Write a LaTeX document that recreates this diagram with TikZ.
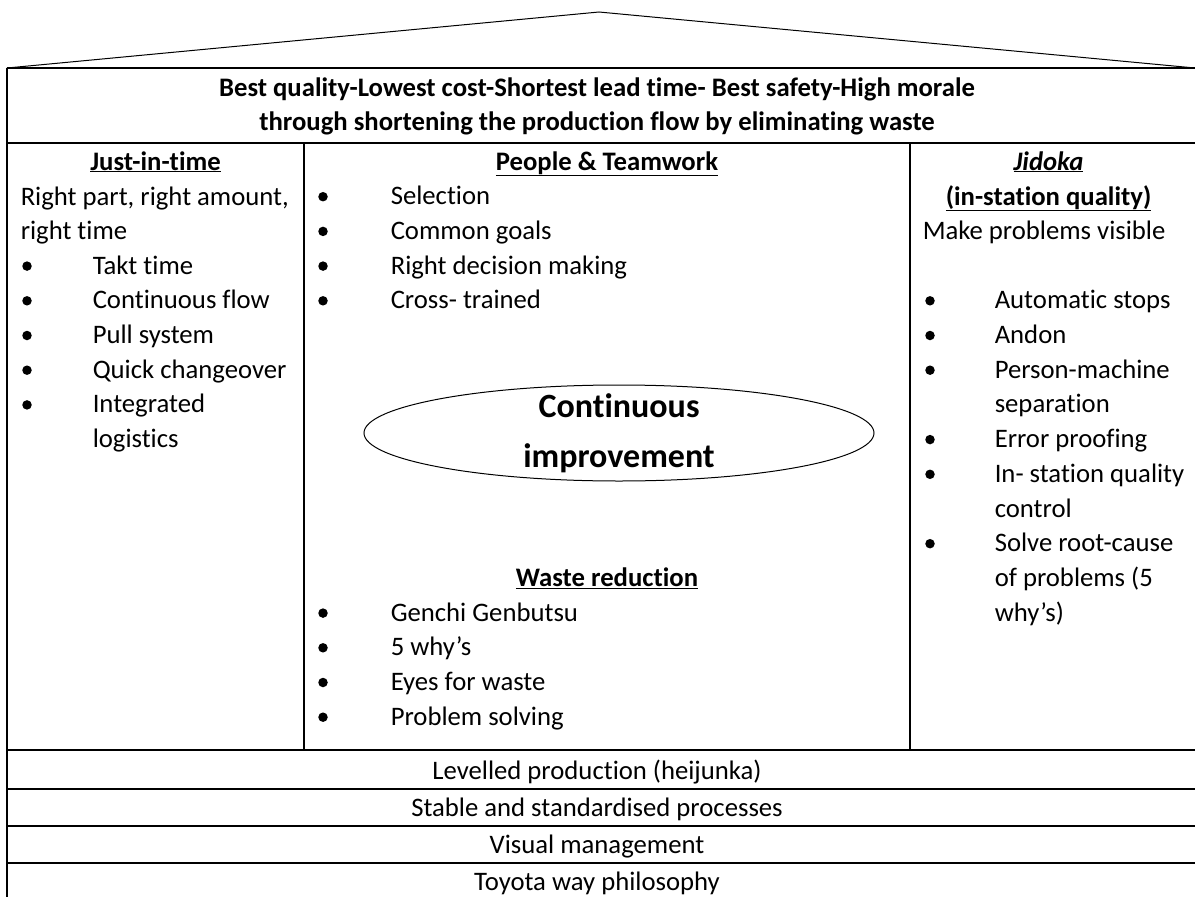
\documentclass[tikz,border=0pt]{standalone}
\usepackage{fontspec}
\setmainfont{Carlito}[Ligatures=NoCommon,Contextuals=NoAlternate]
\usetikzlibrary{shapes.geometric}

\begin{document}
\begin{tikzpicture}[x=1pt,y=-1pt,line width=1.5pt,
  txt/.style={inner sep=0pt,anchor=base west,font=\fontsize{26.7}{32}\selectfont},
  head/.style={inner sep=0pt,anchor=base,font=\fontsize{26.7}{32}\selectfont\bfseries},
  band/.style={inner sep=0pt,anchor=base,font=\fontsize{26.7}{32}\selectfont},
  dot/.style={circle,fill=black,inner sep=0pt,minimum size=9.5pt}]
\useasboundingbox (0,0) rectangle (1195,897);

% House outline
\draw[line width=1pt] (7,68) -- (599,12) -- (1195,68);
\draw (7,68) -- (1195,68);
\draw (7,68) -- (7,897);
\draw (7,143) -- (1195,143);
\draw (304,143) -- (304,750);
\draw (910,143) -- (910,750);
\foreach \y in {750,789,826,863}
  \draw (7,\y) -- (1195,\y);

% Roof text
\node[head] (goal1) at (597,96) {Best quality-Lowest cost-Shortest lead time- Best safety-High morale};
\node[head] (goal2) at (597,130) {through shortening the production flow by eliminating waste};

% Left pillar: just-in-time
\node[head] (jit) at (155.5,170) {\underline{Just-in-time}};
\node[txt] (jit1) at (20,205) {Right part, right amount,};
\node[txt] (jit2) at (20,239) {right time};
\foreach \k/\t in {4/Takt time,5/Continuous flow,6/Pull system,7/Quick changeover,8/Integrated} {
  \node[dot] (jb\k) at (27,{127.3+34.7*\k}) {};
  \node[txt] (jt\k) at (92,{135.3+34.7*\k}) {\t};
}
\node[txt] (jt9) at (92,{135.3+34.7*9}) {logistics};

% Centre: people and teamwork
\node[head] (ppl) at (607,170) {\underline{People \& Teamwork}};
\foreach \k/\t in {2/Selection,3/Common goals,4/Right decision making,5/Cross- trained} {
  \node[dot] (pb\k) at (323,{127.3+34.7*\k}) {};
  \node[txt] (pt\k) at (390,{135.3+34.7*\k}) {\t};
}

% Continuous improvement
\node[draw,ellipse,line width=1pt,minimum width=510pt,minimum height=96pt] (ci) at (619,433) {};
\node[inner sep=0pt,align=center,font=\fontsize{34}{50}\selectfont\bfseries] (citxt) at (ci.center) {Continuous\\improvement};

% Centre: waste reduction
\node[head] (waste) at (607,{135.3+34.7*13}) {\underline{Waste reduction}};
\foreach \k/\t in {14/Genchi Genbutsu,15/5 why’s,16/Eyes for waste,17/Problem solving} {
  \node[dot] (wb\k) at (323,{127.3+34.7*\k}) {};
  \node[txt] (wt\k) at (390,{135.3+34.7*\k}) {\t};
}

% Right pillar: jidoka
\node[head] (jid) at (1048.5,170) {\underline{\itshape Jidoka}};
\node[head] (jid2) at (1048.5,205) {\underline{(in-station quality)}};
\node[txt] (jid3) at (922,239) {Make problems visible};
\foreach \k/\t in {5/Automatic stops,6/Andon,7/Person-machine,9/Error proofing,10/In- station quality,12/Solve root-cause} {
  \node[dot] (kb\k) at (930,{127.3+34.7*\k}) {};
  \node[txt] (kt\k) at (994,{135.3+34.7*\k}) {\t};
}
\foreach \k/\t in {8/separation,11/control,13/of problems (5,14/why’s)}
  \node[txt] (kt\k) at (994,{135.3+34.7*\k}) {\t};

% Foundation bands
\node[band] (lev) at (597,779) {Levelled production (heijunka)};
\node[band] (std) at (597,816) {Stable and standardised processes};
\node[band] (vis) at (597,853) {Visual management};
\node[band] (tw) at (597,890) {Toyota way philosophy};
\end{tikzpicture}
\end{document}
